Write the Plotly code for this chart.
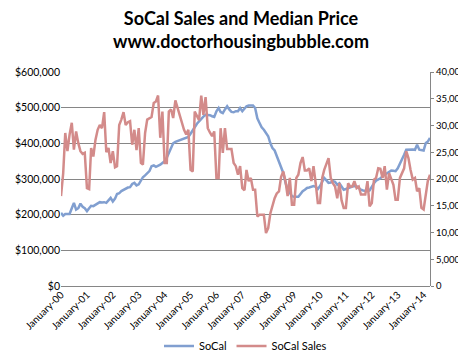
import pandas as pd
import plotly.graph_objects as go

months = pd.date_range("2000-01-01", periods=172, freq="MS")

# SoCal median price (in $)
socal_price_k = [
    205, 197, 202, 201, 202, 218, 233, 214, 218, 231, 222, 218,
    210, 218, 225, 224, 228, 230, 235, 234, 235, 233, 240, 247,
    237, 245, 258, 260, 266, 270, 273, 276, 277, 286, 289, 282,
    285, 295, 305, 310, 315, 322, 336, 338, 334, 336, 340, 345,
    350, 360, 373, 385, 400, 404, 406, 408, 410, 412, 415, 418,
    427, 435, 445, 455, 462, 471, 475, 480, 480, 479, 476, 474,
    490, 499, 488, 485, 495, 504, 495, 488, 487, 490, 490, 499,
    490, 497, 504, 506, 505, 506, 499, 470, 457, 445, 438, 428,
    420, 400, 387, 380, 365, 350, 335, 317, 290, 270, 261, 252,
    250, 250, 250, 258, 266, 270, 275, 276, 278, 280, 278, 272,
    280, 292, 303, 296, 289, 290, 294, 292, 284, 288, 280, 270,
    272, 275, 278, 279, 280, 280, 275, 270, 268, 267, 266, 268,
    280, 288, 295, 298, 302, 308, 312, 316, 320, 324, 323, 322,
    330, 345, 354, 368, 382, 383, 384, 383, 382, 396, 382, 381,
    380, 401, 405, 415,
]
socal_price = [v * 1000 for v in socal_price_k]

# SoCal sales (count)
socal_sales_k = [
    16.8, 21.1, 28.6, 25.2, 28.3, 30.5, 25.5, 28.9, 26.7, 25.2, 24.7, 24.9,
    18.3, 18.1, 25.8, 24.2, 27.3, 29.2, 30.1, 29.5, 32.5, 25.0, 25.8, 23.0,
    25.2, 22.2, 22.4, 30.1, 31.1, 32.5, 30.1, 30.6, 30.8, 26.4, 29.2, 25.4,
    29.5, 23.0, 22.7, 28.6, 31.1, 31.4, 31.6, 34.2, 34.5, 35.6, 27.7, 32.6,
    23.0, 23.0, 32.6, 33.0, 31.4, 34.7, 33.3, 32.0, 30.5, 29.2, 28.3, 29.2,
    21.7, 21.4, 32.6, 31.7, 31.0, 35.6, 32.0, 35.3, 29.5, 28.7, 28.0, 28.9,
    20.2, 20.2, 29.5, 24.9, 29.5, 25.6, 25.6, 25.6, 23.0, 22.4, 20.8, 22.4,
    18.3, 17.9, 21.7, 19.6, 20.2, 18.0, 18.0, 13.0, 13.3, 13.3, 13.3, 9.9,
    10.8, 13.6, 15.0, 16.4, 17.3, 17.7, 20.4, 21.4, 19.6, 16.8, 20.2, 15.2,
    15.2, 20.2, 20.8, 23.0, 24.1, 21.6, 21.6, 22.0, 19.6, 22.4, 19.2, 15.5,
    15.5, 20.2, 21.7, 23.0, 23.9, 20.2, 19.2, 18.6, 16.4, 19.2, 16.0, 14.6,
    14.6, 19.2, 18.6, 18.6, 19.6, 18.3, 18.6, 17.1, 17.1, 17.1, 19.6, 14.9,
    15.5, 19.9, 20.2, 22.0, 21.9, 20.2, 22.4, 18.0, 21.1, 20.0, 18.9, 16.1,
    16.1, 20.2, 21.1, 22.0, 25.2, 23.9, 21.7, 19.9, 20.2, 17.7, 18.3, 14.6,
    14.3, 17.7, 19.6, 20.8,
]
socal_sales = [v * 1000 for v in socal_sales_k]

FONT = "Lato"
GRID = "#868686"

fig = go.Figure()
fig.add_trace(go.Scatter(
    x=months, y=socal_price, name="SoCal", mode="lines",
    line=dict(color="#819fd0", width=2.5), yaxis="y",
))
fig.add_trace(go.Scatter(
    x=months, y=socal_sales, name="SoCal Sales", mode="lines",
    line=dict(color="#d38b8a", width=2.5), yaxis="y2",
))

fig.update_layout(
    width=466, height=357,
    margin=dict(l=53, r=44, t=64, b=79, autoexpand=False),
    paper_bgcolor="white", plot_bgcolor="white",
    font=dict(family=FONT, size=11, color="#000000"),
    title=dict(
        text="<b>SoCal Sales and Median Price<br>www.doctorhousingbubble.com</b>",
        x=0.5, xref="container", xanchor="center",
        y=1 - 17 / 357, yref="container", yanchor="middle",
        font=dict(family=FONT, size=18, color="#000000"),
        automargin=False,
    ),
    xaxis=dict(
        type="date",
        range=[months[0], months[-1]],
        dtick="M12", tick0="2000-01-01", tickformat="%B-%y",
        tickangle=-45, tickfont=dict(size=10),
        showgrid=False, showline=False, ticks="", zeroline=False,
        automargin=False,
    ),
    yaxis=dict(
        range=[0, 600000], dtick=100000, tickprefix="$", tickformat=",",
        showgrid=True, gridcolor=GRID, gridwidth=1,
        zeroline=True, zerolinecolor=GRID, zerolinewidth=1,
        showline=False, ticks="", tickfont=dict(size=10.5),
        automargin=False,
    ),
    yaxis2=dict(
        range=[0, 40000], dtick=5000, tickformat=",",
        overlaying="y", side="right", showgrid=False, zeroline=False,
        showline=True, linecolor=GRID, linewidth=1,
        ticks="outside", ticklen=3, tickcolor=GRID, tickfont=dict(size=9.5),
        automargin=False,
    ),
    legend=dict(
        orientation="h", x=0.5, xanchor="center",
        y=-0.28, yanchor="middle", font=dict(size=11),
    ),
    showlegend=True,
)

fig.write_html("out.html")
